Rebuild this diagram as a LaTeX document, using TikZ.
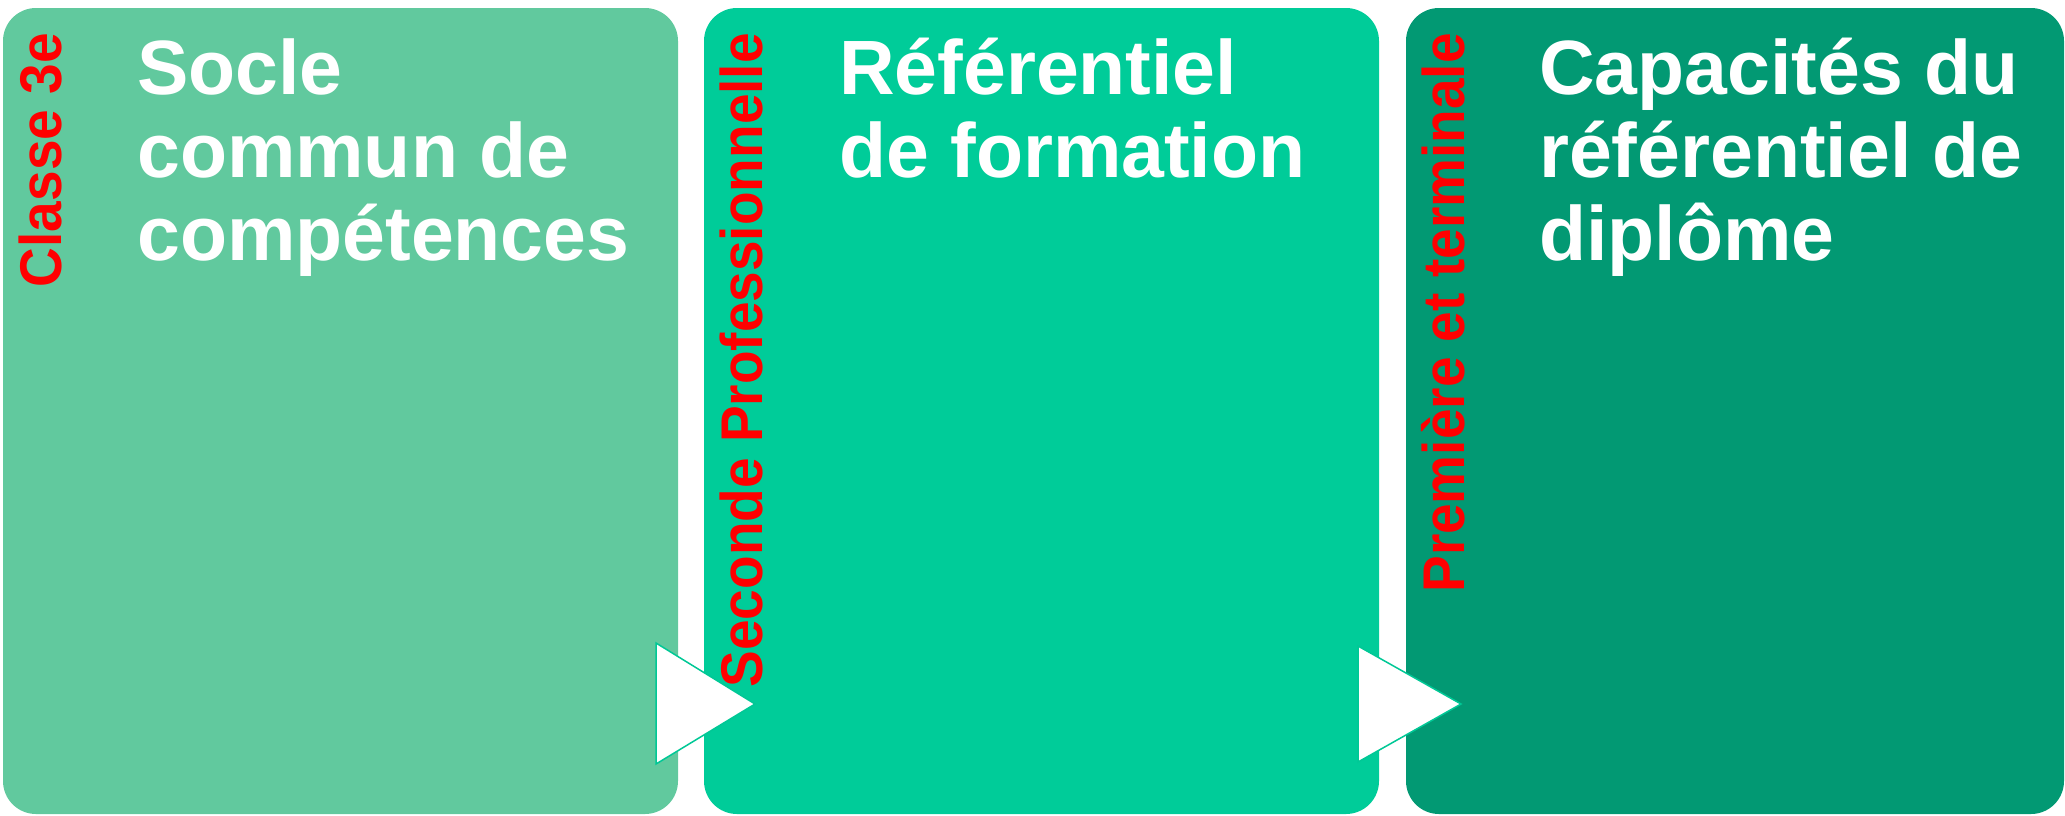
\documentclass[tikz,border=0pt]{standalone}
\usepackage{fontspec}
\setmainfont{Liberation Sans}
\definecolor{boxA}{RGB}{97,201,158}
\definecolor{boxB}{RGB}{0,204,153}
\definecolor{boxC}{RGB}{2,153,115}
\definecolor{triline}{RGB}{0,200,150}
\begin{document}
\begin{tikzpicture}[x=1pt,y=-1pt,
  panel/.style={rectangle, rounded corners=33pt, inner sep=0pt, draw=none},
  stage/.style={rotate=90, yscale=1.07, anchor=base east, inner sep=0pt, text=red, font=\fontsize{55}{60}\selectfont\bfseries},
  title/.style={anchor=base west, inner sep=0pt, text=white, font=\fontsize{77}{83}\selectfont\bfseries},
  arrowhead/.style={fill=white, draw=triline, line width=1.5pt, line join=miter}]
\useasboundingbox (0,0) rectangle (2065,815);
\node[panel, fill=boxA, minimum width=675pt, minimum height=806pt] (b1) at (340.5,411) {};
\node[panel, fill=boxB, minimum width=675pt, minimum height=806pt] (b2) at (1041.5,411) {};
\node[panel, fill=boxC, minimum width=658pt, minimum height=806pt] (b3) at (1735,411) {};
\node[title] (t1) at (137,94) {\parbox[t]{540pt}{Socle\\commun de\\compétences}};
\node[title] (t2) at (839,94) {\parbox[t]{540pt}{Référentiel\\de formation}};
\node[title] (t3) at (1539,94) {\parbox[t]{520pt}{Capacités du\\référentiel de\\diplôme}};
\node[stage] (s1) at (61,33) {Classe 3e};
\node[stage] (s2) at (762,33) {Seconde Professionnelle};
\node[stage] (s3) at (1464,33) {Première et terminale};
\draw[arrowhead] (656,643) -- (755,704) -- (656,764) -- cycle;
\draw[arrowhead] (1358,646) -- (1461,704) -- (1358,762) -- cycle;
\end{tikzpicture}
\end{document}
